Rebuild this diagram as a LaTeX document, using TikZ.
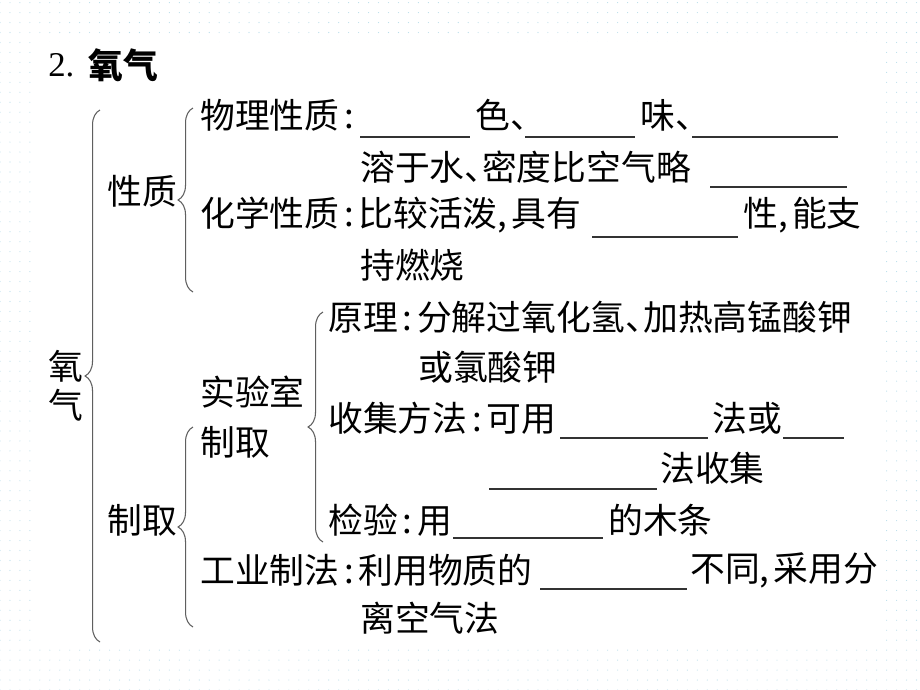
\documentclass[tikz,border=0pt]{standalone}
\usepackage{fontspec}
\newfontfamily\cjk{Noto Sans CJK SC}
\newfontfamily\latinfont{Liberation Serif}
\usepackage{tikz}
\usetikzlibrary{decorations.pathreplacing}
\usetikzlibrary{patterns.meta}
\usepackage{xcolor}
\definecolor{dotcol}{RGB}{185,222,235}
\definecolor{brccol}{RGB}{95,95,95}
% compressed punctuation
\newcommand{\cs}{\makebox[0.55em]{:}}
\newcommand{\cm}{\makebox[0.4em][l]{,}}
\newcommand{\pc}[1]{\makebox[0.5em][l]{#1}}
\newcommand{\cjkfs}{\cjk\fontsize{19.8pt}{24pt}\selectfont}

\begin{document}
\begin{tikzpicture}[
  x=0.02cm, y=-0.02cm,
  txt/.style={anchor=west, inner sep=0pt, font=\cjkfs},
  brc/.style={draw=brccol, line width=0.6pt, decorate,
    decoration={brace, amplitude=15pt*0.5669}},
  blank/.style={draw=black!80, line width=0.7pt}
]
\useasboundingbox (0,0) rectangle (920,690);

% dotted page background
\fill[white] (0,0) rectangle (920,690);
\fill[pattern={Dots[distance=5.67pt, radius=0.32pt]}, pattern color=dotcol] (0,0) rectangle (920,690);
\fill[white] (35,42) rectangle (882,643);

% title
\node[txt, font=\latinfont\fontsize{19.8pt}{24pt}\selectfont] (num) at (48,65) {2.};
\node[txt, font=\cjkfs\bfseries] (title) at (88,65) {氧气};

% root
\node[txt, align=center] (root) at (48,386) {氧\\[-1.9pt]气};
\draw[brc] (100,642) -- (100,110);

% properties
\node[txt] (prop) at (107,191) {性质};
\draw[brc] (193,292) -- (193,108);
\node[txt] (phys) at (200,115) {物理性质\cs};
\node[txt] (colour) at (475,115) {色\pc{、}};
\node[txt] (smell) at (640,115) {味\pc{、}};
\node[txt] (solub) at (360,167) {溶于水\pc{、}密度比空气略};
\node[txt] (chem) at (200,215) {化学性质\cs 比较活泼\cm 具有};
\node[txt] (chemb) at (743,215) {性\cm 能支};
\node[txt] (burn) at (360,265) {持燃烧};

% preparation
\node[txt] (prep) at (107,520) {制取};
\draw[brc] (193,627) -- (193,427);
\node[txt, align=left] (lab) at (200,417) {实验室\\[4.4pt]制取};
\draw[brc] (323,542) -- (323,312);
\node[txt] (princ) at (328,317) {原理\cs 分解过氧化氢\pc{、}加热高锰酸钾};
\node[txt] (princb) at (418,367) {或氯酸钾};
\node[txt] (coll) at (328,418) {收集方法\cs 可用};
\node[txt] (collb) at (712,418) {法或};
\node[txt] (collc) at (660,468) {法收集};
\node[txt] (test) at (328,520) {检验\cs 用};
\node[txt] (testb) at (608,520) {的木条};
\node[txt] (ind) at (200,570) {工业制法\cs 利用物质的};
\node[txt] (indb) at (690,570) {不同\cm 采用分};
\node[txt] (indc) at (360,618) {离空气法};

% blanks to fill in
\foreach \xa/\xb/\yy in {360/470/137, 525/635/137, 692/838/137,
  710/847/187, 592/738/237, 560/708/438, 783/844/438,
  489/657/489, 453/603/538, 540/687/589}
  \draw[blank] (\xa,\yy) -- (\xb,\yy);

\end{tikzpicture}
\end{document}
